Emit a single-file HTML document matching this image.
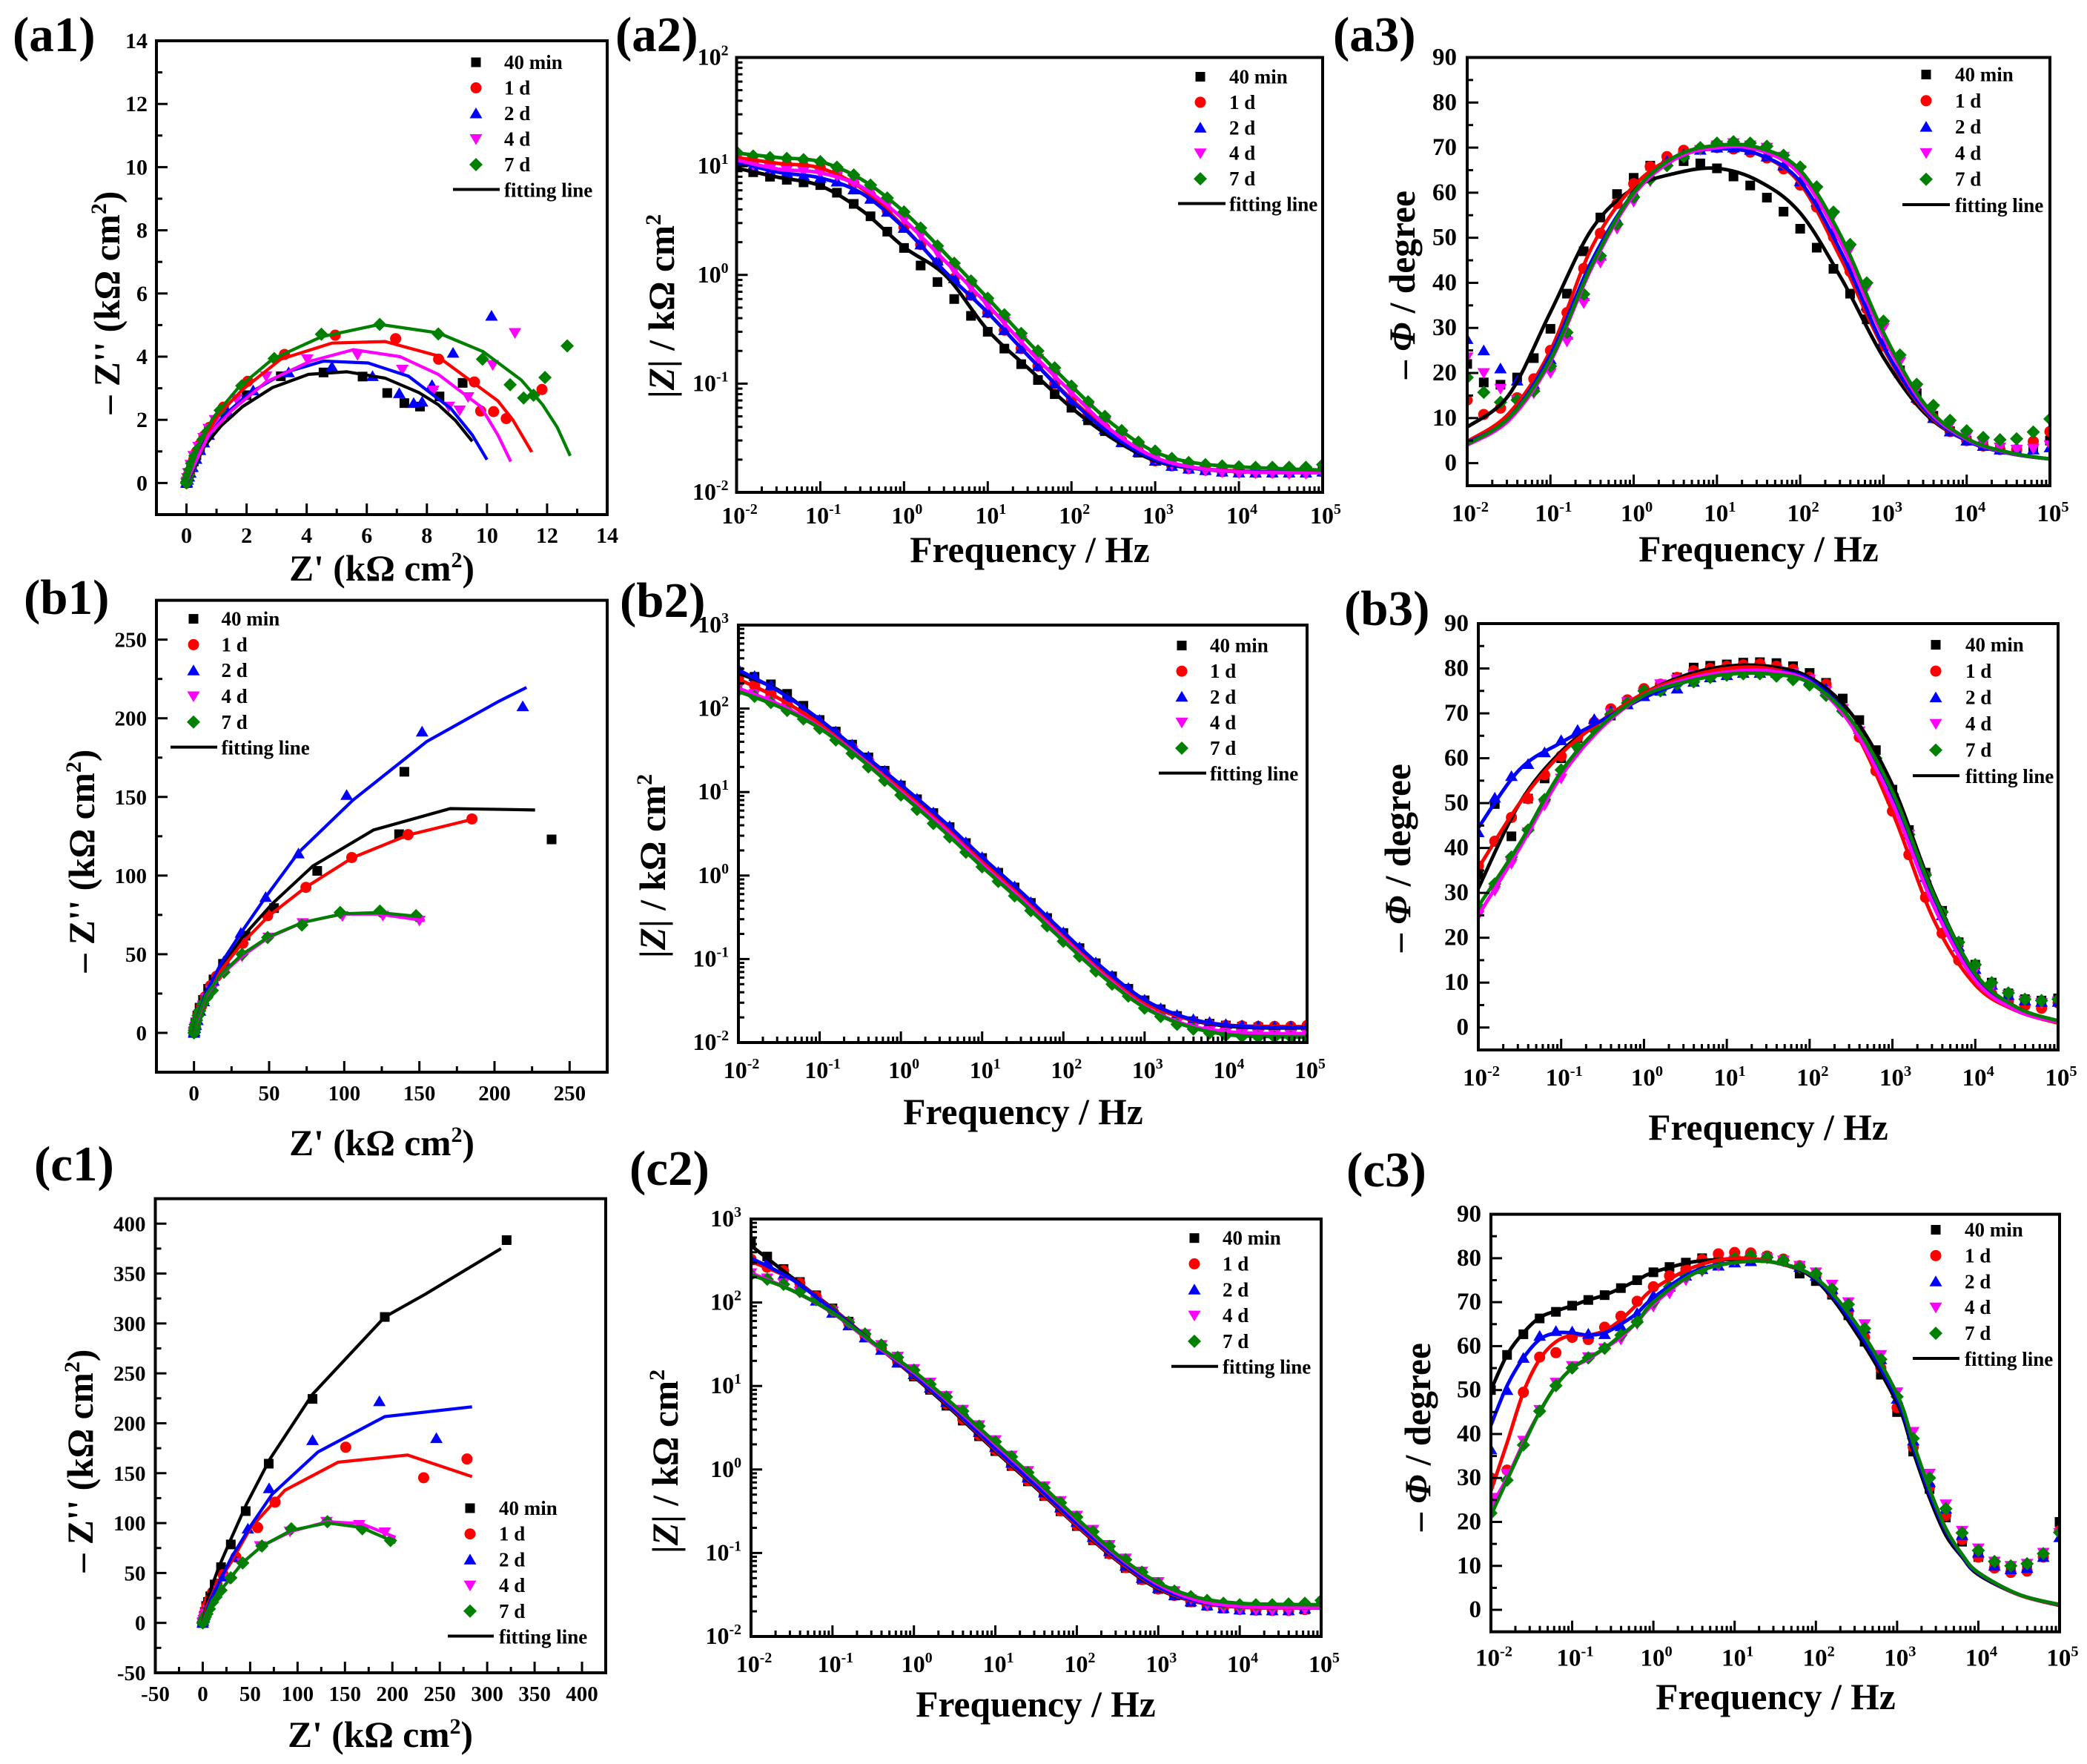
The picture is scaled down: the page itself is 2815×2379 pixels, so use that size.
<!DOCTYPE html>
<html>
<head>
<meta charset="utf-8">
<title>Electrochemical impedance figure</title>
<style>
html,body{margin:0;padding:0;background:#fff;}
svg{display:block;}
text{font-family:"Liberation Serif",serif;font-weight:bold;fill:#000;}
</style>
</head>
<body>
<svg id="figure" xmlns="http://www.w3.org/2000/svg" width="2815" height="2379" viewBox="0 0 2815 2379"></svg>
<script>
const seriesLabels = ['40 min','1 d','2 d','4 d','7 d'];
const fitLabel = 'fitting line';
const freqs = [0.01,0.0158,0.0251,0.0398,0.0631,0.1,0.158,0.251,0.398,0.631,1,1.58,2.51,3.98,6.31,10,15.8,25.1,39.8,63.1,100,158,251,398,631,1000,1580,2510,3980,6310,10000,15800,25100,39800,63100,100000];
const halfDecades = [0.01,0.0316,0.1,0.316,1,3.16,10,31.6,100,316,1000,3162,10000,31623,100000];
const c3FitFreqs = [0.01,0.0158,0.0251,0.0398,0.0631,0.1,0.158,0.251,0.398,0.631,1,3.16,10,31.6,100,316,1000,1580,2510,3980,6310,10000,31623,100000];
const logXExponents = [-2,-1,0,1,2,3,4,5];
const a2YExponents = [-2,-1,0,1,2];
const b2YExponents = [-2,-1,0,1,2,3];
const c2YExponents = [-2,-1,0,1,2,3];
const a1Ticks = [0,2,4,6,8,10,12,14];
const b1Ticks = [0,50,100,150,200,250];
const c1Ticks = [-50,0,50,100,150,200,250,300,350,400];
const phaseTicks = [0,10,20,30,40,50,60,70,80,90];

/* a1 Nyquist */
const a1Re40 = [9.19,8.42,7.77,7.25,6.68,5.86,4.56,3.14,2,1.3,0.74,0.58,0.45,0.33,0.24,0.17,0.1,0.06,0.03,0.01,0];
const a1Im40 = [3.17,2.74,2.42,2.53,2.85,3.37,3.5,3.38,2.78,2.18,1.58,1.33,1.1,0.88,0.68,0.5,0.32,0.2,0.1,0.03,0];
const a1Re1d = [11.83,10.64,10.22,9.79,9.58,8.39,6.96,4.95,3.26,2.04,1.23,0.76,0.58,0.45,0.33,0.24,0.17,0.1,0.06,0.03,0.01,0];
const a1Im1d = [2.96,2.04,2.26,2.28,3.2,3.92,4.57,4.68,4.07,3.22,2.4,1.76,1.48,1.22,0.98,0.74,0.52,0.32,0.2,0.1,0.03,0];
const a1Re2d = [10.15,8.87,8.17,7.84,7.56,7.08,6.19,4.84,3.4,2.22,1.37,0.74,0.58,0.45,0.32,0.2,0.13,0.08,0.04,0.01,0];
const a1Im2d = [5.29,4.12,3.1,2.57,2.53,2.84,3.38,3.68,3.5,2.93,2.24,1.52,1.28,1.04,0.76,0.5,0.32,0.2,0.1,0.03,0];
const a1Re4d = [10.93,10.19,9.37,9.09,8.73,8.21,7.18,5.69,4.02,2.65,1.66,0.95,0.74,0.57,0.4,0.24,0.14,0.06,0.03,0.01,0];
const a1Im4d = [4.75,3.74,2.72,2.3,2.42,2.93,3.59,4.06,3.92,3.38,2.66,2,1.72,1.43,1.15,0.86,0.58,0.32,0.16,0.05,0];
const a1Re7d = [12.67,11.93,11.55,11.22,10.77,9.85,8.38,6.43,4.49,2.92,1.84,1.12,0.71,0.55,0.41,0.28,0.17,0.11,0.07,0.03,0.01,0];
const a1Im7d = [4.34,3.34,2.78,2.69,3.11,3.92,4.72,5.02,4.71,3.94,3.08,2.3,1.64,1.38,1.1,0.86,0.62,0.42,0.26,0.12,0.04,0];
const a1FitRe40 = [9.51,8.95,8.38,7.74,6.61,5.34,4.06,2.86,1.87,1.16,0.59,0.24,0];
const a1FitIm40 = [1.32,1.98,2.48,2.86,3.32,3.52,3.44,3.02,2.42,1.82,1.16,0.44,0];
const a1FitRe1d = [11.49,10.86,10.36,8.31,6.61,4.84,3.14,1.87,1.02,0.45,0.1,0];
const a1FitIm1d = [0.98,2,2.6,4.04,4.48,4.43,3.92,2.96,2.12,1.16,0.32,0];
const a1FitRe2d = [10,9.51,8.8,7.39,6.04,4.56,3.28,2.08,1.23,0.59,0.24,0];
const a1FitIm2d = [0.74,1.52,2.36,3.38,3.8,3.86,3.5,2.84,2.12,1.28,0.5,0];
const a1FitRe4d = [10.79,10.36,9.79,8.38,7.11,5.55,4.13,2.65,1.51,0.74,0.28,0];
const a1FitIm4d = [0.68,1.52,2.42,3.44,4,4.22,3.86,3.2,2.3,1.52,0.62,0];
const a1FitRe7d = [12.77,12.34,11.85,11.14,9.87,8.38,6.43,4.49,2.86,1.73,0.88,0.38,0.1,0];
const a1FitIm7d = [0.86,1.76,2.48,3.26,4.16,4.75,5.02,4.63,3.92,3.02,2.06,1.1,0.32,0];

/* b1 Nyquist */
const b1Re40 = [238,136.5,140,82,53.3,34.3,19.3,13,9.4,6,3.7,2.2,0.9,0.5,0.2,0];
const b1Im40 = [123,126.3,166,103,79.3,61.8,43.9,34,28,21,16,11,6.7,4,2,0];
const b1Re1d = [185,142.5,105,74.5,49,32.5,20.5,15,11,7.5,5,3,1.5,0.8,0.3,0];
const b1Im1d = [136,126,111.5,92.5,74.5,57,43,36,30,23,17,12,7,4,2,0];
const b1Re2d = [218.8,151.8,101.6,69.5,47.7,31.2,19.9,13,9,6.5,4,2.3,1.2,0.6,0.2,0];
const b1Im2d = [207.6,191.5,151.2,114,86.3,63.5,45.5,33,26,20,14,8,5,3,1,0];
const b1Re4d = [150,125.7,98.8,72.4,49.7,32,20,11.6,8.5,6,3.8,1.7,1,0.5,0.2,0];
const b1Im4d = [71.4,74.5,74.3,69.8,60.6,48.7,38,27,22,17.5,12,6.7,4,2.5,1,0];
const b1Re7d = [147.8,123.7,97.3,71.8,49,32,19.9,12.2,8.5,6,3.8,2.7,1.7,1,0.5,0.2,0];
const b1Im7d = [74.5,77.4,76.5,68.6,60.6,49.9,38.6,27,22.5,18.7,14,11,8,5.5,3.5,1.5,0];
const b1FitRe40 = [227,208,170.5,119.5,79,52,32,18,6.5,0.9,0];
const b1FitIm40 = [141.7,142,142.6,129,106,82,60.6,41.5,21,5.5,0];
const b1FitRe1d = [185,142.7,105.8,74,49.7,32,19.3,9.4,2.3,0];
const b1FitIm1d = [135.7,125.8,111.5,92.3,74.3,57,41.5,27,10.3,0];
const b1FitRe2d = [221.3,202.3,155,105.8,69.5,47.7,31.2,17.9,8,1.7,0];
const b1FitIm2d = [219.6,210.5,185.3,148,114.6,86.3,63.5,43.9,25.9,7.9,0];
const b1FitRe4d = [153.5,122.9,98.8,72.4,49.7,32,17.9,8,1.7,0];
const b1FitIm4d = [71.4,75.5,75.5,70.2,60.6,48.7,36.7,23.5,6.7,0];
const b1FitRe7d = [151.2,122.9,98.8,72.4,49.7,32,17.9,8,1.7,0];
const b1FitIm7d = [73.8,76.5,75.7,70.2,61.1,49.9,37.2,24.2,7.9,0];

/* c1 Nyquist */
const c1Re40 = [320.5,192,115.8,69.6,45.3,29.6,19.3,12.6,8,5.5,3.6,2.2,1.2,0.5,0];
const c1Im40 = [383.5,306.5,224.4,159.5,112,78.6,55.8,38.5,26.7,21,16.9,11,7,3,0];
const c1Re1d = [278.7,233,150.8,76.3,57.9,35,21.5,15,10.3,7,4.5,2.8,1.5,0.6,0];
const c1Im1d = [164.2,145.4,176,121,95.5,66,48.3,39,30.6,23,17,12,7,3,0];
const c1Re2d = [246.4,186.3,115.8,70,47.6,32.8,21.5,15,10.3,6,3.6,2,1,0.4,0];
const c1Im2d = [185,222,183,134.8,94.3,66,46.4,36,26.7,19,13,8,5,2,0];
const c1Re4d = [192,165,130.6,92,60.6,41.7,28.3,17,12,9,6,3.6,2,1,0.4,0];
const c1Im4d = [90.8,98.2,101.4,91.6,77,60,44.4,32.6,25,18.9,13,9,6,3,1,0];
const c1Re7d = [198,168.3,131.5,93.4,62.4,42.2,29.6,19.3,14,10.3,7,4.5,2.8,1.5,0.6,0];
const c1Im7d = [82.5,94.3,101.4,94.3,77,60,45.2,32.6,26,20.8,14,9,6,3.5,1.5,0];
const c1FitRe40 = [314.6,234.7,192,115.8,70.9,46.2,30.5,17,5.8,0];
const c1FitIm40 = [375,329.3,306.5,229,164.2,119,85.7,56,26.7,0];
const c1FitRe1d = [284,215.9,142.7,86.6,50.7,28.3,14.8,4.5,0];
const c1FitIm1d = [146.6,168.2,161,132.8,95.5,58.2,38.5,17,0];
const c1FitRe2d = [284,192,121.6,73.2,50.7,30.5,19.3,8,0];
const c1FitIm2d = [216.5,206.7,171.3,128.9,97.4,66,44.4,22.8,0];
const c1FitRe4d = [203.3,167.4,131.5,93.4,62.4,41.7,23.8,10.3,3.6,0];
const c1FitIm4d = [85.7,99.4,101.4,91.6,77,60,38.5,22.8,9,0];
const c1FitRe7d = [203.3,167.4,131.5,93.4,62.4,41.7,23.8,10.3,3.6,0];
const c1FitIm7d = [80.5,95.5,100.2,92.7,77,60,38.5,22.8,9,0];

/* a2 |Z| */
const a2Mod40 = [10,8.8,8,7.5,7.1,6.7,5.7,4.5,3.46,2.5,1.77,1.22,0.86,0.6,0.42,0.3,0.21,0.151,0.108,0.08,0.06,0.046,0.0366,0.0288,0.0232,0.0195,0.0175,0.0165,0.016,0.0155,0.0153,0.0152,0.0152,0.0152,0.0152,0.0155];
const a2Mod1d = [12,10.6,10.4,10.3,10,9.6,8.7,7,5.4,3.9,2.75,1.9,1.3,0.93,0.65,0.45,0.31,0.21,0.145,0.1,0.072,0.052,0.039,0.03,0.024,0.0195,0.0175,0.0165,0.016,0.0155,0.0153,0.0152,0.0152,0.0152,0.0152,0.0155];
const a2Mod2d = [11.3,9.7,9,8.7,8.2,7.8,7.2,6.1,5,3.8,2.7,1.9,1.35,0.93,0.65,0.45,0.31,0.21,0.145,0.1,0.07,0.05,0.038,0.029,0.0235,0.0195,0.0175,0.0165,0.016,0.0155,0.0152,0.0152,0.0152,0.0152,0.0152,0.0155];
const a2Mod4d = [11.8,10.2,9.6,9.2,9,8.7,8.1,7,5.8,4.4,3.2,2.3,1.6,1.1,0.77,0.53,0.37,0.25,0.17,0.12,0.083,0.06,0.044,0.033,0.0255,0.0205,0.018,0.0165,0.0158,0.0153,0.015,0.015,0.015,0.0148,0.0148,0.015];
const a2Mod7d = [13.5,12.4,12,11.8,11.5,11,9.8,8.3,6.7,5.1,3.8,2.7,1.85,1.28,0.88,0.61,0.43,0.29,0.2,0.14,0.095,0.068,0.05,0.037,0.029,0.024,0.0205,0.0188,0.018,0.0175,0.0172,0.017,0.017,0.017,0.017,0.018];
const a2Fit40 = [9.6,7.9,6.6,3.9,1.8,0.98,0.31,0.135,0.06,0.031,0.0195,0.0165,0.0155,0.0152,0.0152];
const a2Fit1d = [12,10.6,9.6,6.2,2.75,1.05,0.45,0.175,0.072,0.034,0.0205,0.0167,0.0157,0.0154,0.0154];
const a2Fit2d = [11,8.8,7.8,5.6,2.7,1.05,0.45,0.175,0.07,0.033,0.02,0.0165,0.0156,0.0153,0.0153];
const a2Fit4d = [11.4,9.4,8.7,6.4,3.2,1.32,0.53,0.2,0.083,0.036,0.021,0.0167,0.0155,0.0152,0.0152];
const a2Fit7d = [13.2,12,11,7.5,3.8,1.55,0.61,0.235,0.095,0.042,0.0235,0.0185,0.0172,0.0165,0.016];

/* b2 |Z| */
const b2Mod40 = [275,240,195,150,108,73,53,37,26,18,12,8.2,5.6,3.8,2.45,1.62,1.08,0.72,0.47,0.31,0.205,0.135,0.089,0.062,0.044,0.032,0.025,0.0208,0.018,0.0168,0.016,0.0155,0.0152,0.015,0.015,0.0152];
const b2Mod1d = [230,190,150,118,90,66,48,34,24,16.5,11,7.5,5.1,3.4,2.25,1.5,0.98,0.65,0.43,0.285,0.187,0.125,0.082,0.056,0.04,0.0295,0.0235,0.0198,0.0178,0.0165,0.016,0.0158,0.0156,0.0156,0.0156,0.016];
const b2Mod2d = [300,245,190,137,100,73,53,37,26.5,18,12.3,8.3,5.7,3.9,2.5,1.66,1.1,0.74,0.48,0.32,0.209,0.138,0.091,0.063,0.045,0.0325,0.0257,0.0214,0.019,0.0176,0.0166,0.016,0.0158,0.0156,0.0156,0.0158];
const b2Mod4d = [180,150,125,100,80,60,44,31,21.5,15,10,6.8,4.6,3.1,2.05,1.35,0.9,0.6,0.4,0.265,0.172,0.113,0.075,0.052,0.037,0.027,0.021,0.0172,0.015,0.0138,0.0132,0.0128,0.0126,0.0126,0.0126,0.0128];
const b2Mod7d = [165,140,118,95,75,58,42,29,20,13.8,9.2,6.2,4.2,2.9,1.9,1.27,0.85,0.57,0.38,0.25,0.163,0.108,0.072,0.05,0.036,0.0258,0.0205,0.0165,0.0145,0.013,0.0122,0.0118,0.0116,0.0116,0.0116,0.0118];
const b2Fit40 = [265,165,72,30,12,4.6,1.62,0.6,0.205,0.075,0.032,0.0195,0.0158,0.015,0.015];
const b2Fit1d = [225,132,66,29,11,4.3,1.5,0.56,0.19,0.07,0.03,0.0195,0.0162,0.0156,0.0155];
const b2Fit2d = [290,160,74,30,12.2,4.7,1.66,0.61,0.21,0.076,0.0325,0.02,0.0162,0.0152,0.0152];
const b2Fit4d = [175,112,60,26,10,3.9,1.35,0.5,0.175,0.063,0.027,0.0165,0.0135,0.0128,0.0128];
const b2Fit7d = [160,105,58,25,9.5,3.6,1.27,0.47,0.165,0.06,0.0262,0.016,0.0125,0.0118,0.0116];

/* c2 |Z| */
const c2Mod40 = [510,355,252,176,122,85,59,41,28,19,13,9,5.8,3.85,2.5,1.66,1.1,0.72,0.48,0.316,0.21,0.142,0.098,0.066,0.048,0.037,0.031,0.0257,0.0233,0.0216,0.021,0.0207,0.0205,0.0205,0.021,0.024];
const c2Mod1d = [330,265,240,170,118,82,57,40,28,19.5,13.5,9.3,6.1,4,2.6,1.72,1.12,0.74,0.49,0.32,0.215,0.145,0.098,0.067,0.048,0.037,0.031,0.026,0.0235,0.022,0.021,0.0207,0.0205,0.0205,0.021,0.024];
const c2Mod2d = [320,300,215,150,105,75,53,38,27,19,13.8,9.5,6.4,5,2.8,1.85,1.2,0.8,0.53,0.35,0.235,0.155,0.105,0.07,0.05,0.038,0.031,0.0262,0.0235,0.0218,0.021,0.0205,0.0205,0.0205,0.0215,0.024];
const c2Mod4d = [225,195,170,135,105,78,56,42,31,22.5,16,11,7.6,5.2,3.4,2.25,1.47,0.96,0.63,0.42,0.28,0.19,0.125,0.086,0.06,0.045,0.035,0.028,0.024,0.022,0.021,0.0207,0.0205,0.0205,0.021,0.024];
const c2Mod7d = [215,190,165,135,108,80,58,42,31,22,15.5,10.5,7.4,5,3.3,2.15,1.42,0.92,0.6,0.4,0.27,0.18,0.12,0.083,0.059,0.043,0.035,0.03,0.027,0.025,0.024,0.024,0.024,0.0245,0.025,0.027];
const c2Fit40 = [480,200,85,33,13,4.8,1.66,0.6,0.21,0.08,0.037,0.0255,0.0225,0.022,0.022];
const c2Fit1d = [310,190,84,33,13.3,5,1.72,0.62,0.215,0.082,0.038,0.0255,0.0225,0.022,0.022];
const c2Fit2d = [340,190,82,33,13.5,5.1,1.78,0.64,0.225,0.085,0.039,0.026,0.0228,0.0222,0.022];
const c2Fit4d = [225,140,75,32,14.5,5.6,2,0.72,0.25,0.092,0.042,0.0268,0.023,0.0222,0.0222];
const c2Fit7d = [215,140,76,33,15,5.8,2.1,0.75,0.26,0.095,0.044,0.029,0.025,0.0242,0.024];

/* a3 phase */
const a3Phase40 = [22,17.9,17.4,19,23.3,29.8,37.6,47,54.5,59.7,63.3,66,67,67,66.5,65.4,63.6,61.6,58.9,55.8,52,47.8,43.1,37.6,31.9,26,20.6,15.5,10.5,7.1,5,3.8,3,3,3.4,5];
const a3Phase1d = [14,10.8,12.2,14.5,18.7,25,33.4,43.2,51,57.6,62,65.8,68,69.4,69.7,70,69.7,69,67.7,65.3,61.7,56.8,50.2,42.5,34.2,26,20,14,10,7,5,3.8,3,3,4.8,7];
const a3Phase2d = [27.5,25,21,18.3,17.5,23,28.5,37,46,54,60,64,67,68.5,69.5,70,70,69.5,68,66,62.5,58,51.5,44,35,27,20,14.5,10,7,5,3.8,3,2.8,3,3.5];
const a3Phase4d = [23.5,20,16.5,14,15.5,20,27,35.5,44.5,52,58,62.5,66,68,69.5,70.5,71,70.5,70,68,65,60.5,55,47.5,39,30,22.5,16.5,12,8.5,6,4.5,3.5,3,3.2,4];
const a3Phase7d = [19,15.7,13.5,14,16,21.5,29,37.5,46,53,59,63,66,68,70,71,71.3,71,70.3,68.3,65.7,61.3,55.7,48.5,40,31.5,24,17.5,12.8,9.5,7.2,5.7,5.2,5.4,6.9,9.8];
const a3Fit40 = [8,15.1,33.5,52,61,64.3,65.4,62.6,55.5,40.8,23.5,11,5,2.3,0.9];
const a3Fit1d = [4.8,11,25,48,61.5,68,70,68.5,62,45,25.5,11.5,5,2.2,0.9];
const a3Fit2d = [4.5,10,24,45,60,68,69.7,68.5,62.5,46.5,26,11.8,5,2.2,0.9];
const a3Fit4d = [4,9.5,22.5,43.5,59.5,67.5,70,69.5,64,48.5,28,12.5,5.3,2.3,0.9];
const a3Fit7d = [4.2,10,23,44,60,68,70.5,70,65,50,29,13,5.5,2.4,0.9];

/* b3 phase */
const b3Phase40 = [34,49.8,42.6,51,55.5,60,64.5,67.5,69.5,72,74.5,76,78,80.2,80.6,80.9,81.3,81.4,81.2,80.5,79,76.8,73.3,68.5,61.8,53,44,34.5,26,19,14,10,7.6,6.3,6,6.5];
const b3Phase1d = [36,41.5,46.8,51,56.3,60.5,64.7,68,71,73,75.5,76.5,78,79.5,80,80.5,80.8,81,80.5,79.8,78,76.5,71,64.7,57.2,48.2,38.5,29,21,15,11,7.5,5.8,4.9,4.3,5.5];
const b3Phase2d = [43.5,51.2,56,58.7,61.3,64,66.3,68.7,70.5,72,73.8,75,75.5,77,78,78.5,79,79,79,78.5,77.5,75.5,71.5,66.5,60,51,43,33.5,25,18,13,9.5,7.2,6,5.7,5.7];
const b3Phase4d = [25,30.5,36.5,43.5,49.5,55.5,61.5,66,70,72.5,74.5,76.5,77.5,78.5,79,79.5,80,80,79.5,79,77.5,75,71,66,59,51,43,33.5,25,18,13,9,7.3,6,5.5,5.8];
const b3Phase7d = [27,32,38,44,50.8,57.4,62.5,66.3,69.8,72.3,75,75,76.5,77,78,78.5,78.8,78.8,78.3,77.5,76.3,74,70.5,66,60,52,43,34,25.7,19,14,10,7.7,6.3,6,6.3];
const b3Fit40 = [31,50,61.5,68.5,74.5,78.5,80.5,80.5,78,70,54,30,12,4.5,1.3];
const b3Fit1d = [35.5,50,61,68.5,74.5,78,80,80,77,67.5,48,24,9.5,3.7,1];
const b3Fit2d = [44.5,57.5,63.5,68.5,73.5,77,79,79.5,77.5,68.5,52,29,11.5,4.2,1.3];
const b3Fit4d = [25,40,56,67,74,77.5,79.2,79.5,77,67.5,50,27,10.5,3.8,1.2];
const b3Fit7d = [27,41,57,67.5,74,77,78.7,78.8,76.8,68.5,52.5,29.5,12,4.5,1.5];

/* c3 phase */
const c3Phase40 = [50,58,62.7,66.3,67.8,69.2,70.5,71.6,73.2,75,76.8,78,79,80,80,80.2,80.5,80.3,79.5,76.5,74.8,71.7,67,61,53.5,45,36,27.5,21,15.5,12,10,9.5,10,12,20];
const c3Phase1d = [30,31.8,49.5,57.5,58.5,62,61.5,64.3,66.8,70.2,73.5,76,77.5,79.7,81,81.3,81.2,80.5,79.8,78.3,76,72,68,62,55,46,37,28,21.5,16,12,9.5,8.5,8.8,12,18];
const c3Phase2d = [36.5,50,57.3,62.3,63.4,63.3,62.8,62.7,64.5,67.5,71.5,73.5,76,77.5,78.3,79,79.3,80,79.5,78,76,73,69,64,57,48,38.5,29,23,17,13,10,9.2,9.5,12,16.5];
const c3Phase4d = [25.5,31,38.5,45.5,51.7,55.5,57.5,59.5,61.5,65,69,72,75,77,78.3,79.5,80,80,79.5,78.3,76.8,74,70,65,58,49.5,40.5,31,24,18,14,11,10,10.5,13,17.5];
const c3Phase7d = [22,29.5,37.5,45.2,51,55,57.3,59.5,62.5,65.5,70,73.5,76,77.5,79,80,80.5,80.2,79.5,78,76.5,73,69.5,64,57,48.5,39,30,23,17.5,13.5,11,10,10.5,12.8,17.6];
const c3Fit40 = [50,58,63,66.5,68,69.2,70.5,71.6,73.2,75,76.8,79.2,79.7,79,75,63,47,36,25.5,17,12,8,3.4,1];
const c3Fit1d = [27,38,49.5,57,61,62.5,62.5,63.5,66,69.5,73,78,80,79,75.3,64,48,37,26.5,18,12.3,8.3,3.4,1];
const c3Fit2d = [42,51,57.3,61.5,63,63,62.5,63,65,67.5,71,77,79,79,75.3,64,48,37,26.5,18,12.3,8.3,3.5,1.1];
const c3Fit4d = [23.5,30,38,45,51,55,57,59.5,62,65.5,69.5,76.5,79,79,75.5,65,49,38,27.5,18.5,12.6,8.5,3.5,1.2];
const c3Fit7d = [21.5,29.5,37.5,45,51,55,57.3,59.5,62.5,65.5,70,76.5,79,79,75.5,65,49,38,27.5,18.5,12.6,8.5,3.5,1.2];

const colors = ['#000000','#ff0000','#0000ff','#ff00ff','#008000'];
const shapes = ['square','circle','up','down','diamond'];
const seriesKeys = ['40-min','1-d','2-d','4-d','7-d'];

const NS = 'http://www.w3.org/2000/svg';
const svg = document.getElementById('figure');

function make(tag, attrs, parent) {
  const el = document.createElementNS(NS, tag);
  for (const k in attrs) el.setAttribute(k, attrs[k]);
  parent.appendChild(el);
  return el;
}
function markerEl(shape, x, y, color, parent) {
  if (shape === 'square') return make('rect', {x: x - 6.5, y: y - 6.5, width: 13, height: 13, fill: color}, parent);
  if (shape === 'circle') return make('circle', {cx: x, cy: y, r: 7.5, fill: color}, parent);
  let pts;
  if (shape === 'up') pts = [[x, y - 8], [x + 8.5, y + 6.5], [x - 8.5, y + 6.5]];
  else if (shape === 'down') pts = [[x, y + 8], [x + 8.5, y - 6.5], [x - 8.5, y - 6.5]];
  else pts = [[x, y - 9], [x + 9, y], [x, y + 9], [x - 9, y]];
  return make('polygon', {points: pts.map(p => p.join(',')).join(' '), fill: color}, parent);
}
function smoothPath(pts) {
  let d = 'M' + pts[0][0].toFixed(1) + ' ' + pts[0][1].toFixed(1);
  for (let i = 0; i < pts.length - 1; i++) {
    const p0 = pts[Math.max(0, i - 1)], p1 = pts[i], p2 = pts[i + 1], p3 = pts[Math.min(pts.length - 1, i + 2)];
    const c1x = p1[0] + (p2[0] - p0[0]) / 6, c1y = p1[1] + (p2[1] - p0[1]) / 6;
    const c2x = p2[0] - (p3[0] - p1[0]) / 6, c2y = p2[1] - (p3[1] - p1[1]) / 6;
    d += ' C' + [c1x, c1y, c2x, c2y, p2[0], p2[1]].map(v => v.toFixed(1)).join(' ');
  }
  return d;
}
function straightPath(pts) {
  return 'M' + pts.map(p => p[0].toFixed(1) + ' ' + p[1].toFixed(1)).join(' L');
}

const panelLabels = [
  {t: '(a1)', x: 17, y: 69}, {t: '(a2)', x: 830, y: 69}, {t: '(a3)', x: 1798, y: 69},
  {t: '(b1)', x: 32, y: 828}, {t: '(b2)', x: 836, y: 832}, {t: '(b3)', x: 1813, y: 843},
  {t: '(c1)', x: 46, y: 1592}, {t: '(c2)', x: 849, y: 1598}, {t: '(c3)', x: 1816, y: 1600}
];
for (const p of panelLabels) {
  const el = make('text', {x: p.x, y: p.y, 'font-size': 67}, svg);
  el.textContent = p.t;
  
  
}

function scaleFn(kind, dMin, dMax, pMin, pMax) {
  if (kind === 'log') {
    const a = dMin, b = dMax;
    return v => pMin + (Math.log10(v) - a) / (b - a) * (pMax - pMin);
  }
  return v => pMin + (v - dMin) / (dMax - dMin) * (pMax - pMin);
}

function drawPanel(c) {
  const g = make('g', {}, svg);
  
  
  const F = c.frame;
  const sx = scaleFn(c.xKind, c.xDom[0], c.xDom[1], F.l, F.r);
  const sy = scaleFn(c.yKind, c.yDom[0], c.yDom[1], F.b, F.t);

  const clip = make('clipPath', {id: 'clip-' + c.id}, g);
  make('rect', {x: F.l, y: F.t, width: F.r - F.l, height: F.b - F.t}, clip);

  const marks = make('g', {'clip-path': 'url(#clip-' + c.id + ')'}, g);
  
  

  c.markers.forEach((m, i) => {
    const sg = make('g', {}, marks);
    
    
    m.y.forEach((v, j) => {
      const pt = markerEl(shapes[i], sx(m.x[j]), sy(v), colors[i], sg);
      
      
    });
  });
  c.fits.forEach((f, i) => {
    const pts = f.y.map((v, j) => [sx(f.x[j]), sy(v)]);
    const d = c.smooth ? smoothPath(pts) : straightPath(pts);
    const line = make('path', {d: d, fill: 'none', stroke: colors[i], 'stroke-width': c.lw, 'stroke-linejoin': 'round'}, marks);
    
    
  });

  const frame = make('rect', {x: F.l, y: F.t, width: F.r - F.l, height: F.b - F.t, fill: 'none', stroke: '#000', 'stroke-width': 4}, g);
  
  

  const tickG = make('g', {stroke: '#000', 'stroke-width': 3}, g);
  
  
  const labelG = make('g', {'font-size': c.tickFont}, g);
  
  

  function tickX(px, len) { make('line', {x1: px, x2: px, y1: F.b, y2: F.b - len}, tickG); }
  function tickY(py, len) { make('line', {x1: F.l, x2: F.l + len, y1: py, y2: py}, tickG); }
  function logLabel(x, y, exp, anchor) {
    const t = make('text', {x: x, y: y, 'text-anchor': anchor}, labelG);
    const a = make('tspan', {}, t);
    a.textContent = '10';
    const b = make('tspan', {dy: -13, 'font-size': c.tickFont * 0.62}, t);
    b.textContent = String(exp);
    
    
  }
  function linLabel(x, y, v, anchor) {
    const t = make('text', {x: x, y: y, 'text-anchor': anchor}, labelG);
    t.textContent = String(v);
    
    
  }
  const base = F.b + c.xLabelGap;
  if (c.xKind === 'log') {
    c.xTicks.forEach((e, i) => {
      tickX(sx(Math.pow(10, e)), 15);
      logLabel(sx(Math.pow(10, e)) + 4, base, e, 'middle');
      if (i < c.xTicks.length - 1) for (let m = 2; m < 10; m++) tickX(sx(m * Math.pow(10, e)), 8);
    });
  } else {
    const st = c.xTicks[1] - c.xTicks[0];
    c.xTicks.forEach(v => {
      tickX(sx(v), 15);
      linLabel(sx(v), base, v, 'middle');
      if (v + st / 2 < c.xDom[1]) tickX(sx(v + st / 2), 8);
    });
  }
  const yEnd = F.l - c.yLabelGap;
  if (c.yKind === 'log') {
    c.yTicks.forEach((e, i) => {
      tickY(sy(Math.pow(10, e)), 15);
      logLabel(yEnd, sy(Math.pow(10, e)) + 10, e, 'end');
      if (i < c.yTicks.length - 1) for (let m = 2; m < 10; m++) tickY(sy(m * Math.pow(10, e)), 8);
    });
  } else {
    const st = c.yTicks[1] - c.yTicks[0];
    c.yTicks.forEach(v => {
      tickY(sy(v), 15);
      linLabel(yEnd, sy(v) + 10, v, 'end');
      if (v + st / 2 < c.yDom[1]) tickY(sy(v + st / 2), 8);
      if (v === c.yTicks[0] && v - st / 2 > c.yDom[0]) tickY(sy(v - st / 2), 8);
    });
  }

  const xt = make('text', {x: c.xTitle.x, y: c.xTitle.y, 'text-anchor': 'middle', 'font-size': 49.5}, g);
  xt.innerHTML = c.xTitle.html;
  
  
  const yt = make('text', {x: c.yTitle.x, y: c.yTitle.y, 'text-anchor': 'middle', 'font-size': 49.5, transform: 'rotate(-90 ' + c.yTitle.x + ' ' + c.yTitle.y + ')'}, g);
  yt.innerHTML = c.yTitle.html;
  
  

  const L = c.legend;
  const lg = make('g', {'font-size': 27}, g);
  
  
  seriesLabels.forEach((s, i) => {
    const y = L.y + i * L.step;
    const mk = markerEl(shapes[i], L.mx, y, colors[i], lg);
    
    
    const tx = make('text', {x: L.tx, y: y + 9}, lg);
    tx.textContent = s;
    
    
  });
  const fy = L.y + 5 * L.step;
  const fl = make('line', {x1: L.l1, x2: L.l2, y1: fy - 1, y2: fy - 1, stroke: '#000', 'stroke-width': 4}, lg);
  
  
  const ft = make('text', {x: L.tx, y: fy + 9}, lg);
  ft.textContent = fitLabel;
  
  
}

const nyqX = "Z' (kΩ cm<tspan dy='-18' font-size='30'>2</tspan><tspan dy='18'>)</tspan>";
const nyqY = "– Z'' (kΩ cm<tspan dy='-18' font-size='30'>2</tspan><tspan dy='18'>)</tspan>";
const freqX = 'Frequency / Hz';
const modY = "|<tspan font-style='italic'>Z</tspan>| / kΩ cm<tspan dy='-18' font-size='30'>2</tspan>";
const phaseY = "– <tspan font-style='italic'>Φ</tspan> / degree";

function nyqSeries(xs, ys) { return xs.map((x, i) => ({x: x, y: ys[i]})); }
function bodeMarkers(ys) { return ys.map(y => ({x: freqs, y: y})); }
function bodeFits(ys, fx) { return ys.map(y => ({x: fx, y: y})); }

const panels = [
  {id: 'a1', frame: {l: 211, r: 819, t: 55, b: 694}, xKind: 'lin', yKind: 'lin', xDom: [-1, 14], yDom: [-1, 14], xTicks: a1Ticks, yTicks: a1Ticks, tickFont: 30, xLabelGap: 38, yLabelGap: 12, lw: 4.2, smooth: false,
   markers: nyqSeries([a1Re40, a1Re1d, a1Re2d, a1Re4d, a1Re7d], [a1Im40, a1Im1d, a1Im2d, a1Im4d, a1Im7d]),
   fits: nyqSeries([a1FitRe40, a1FitRe1d, a1FitRe2d, a1FitRe4d, a1FitRe7d], [a1FitIm40, a1FitIm1d, a1FitIm2d, a1FitIm4d, a1FitIm7d]),
   xTitle: {x: 515, y: 783, html: nyqX}, yTitle: {x: 161, y: 408, html: nyqY},
   legend: {mx: 642, tx: 680, y: 84, step: 34.5, l1: 611, l2: 674}},
  {id: 'a2', frame: {l: 993.5, r: 1784, t: 77.5, b: 664}, xKind: 'log', yKind: 'log', xDom: [-2, 5], yDom: [-2, 2], xTicks: logXExponents, yTicks: a2YExponents, tickFont: 32, xLabelGap: 42, yLabelGap: 11, lw: 4.8, smooth: true,
   markers: bodeMarkers([a2Mod40, a2Mod1d, a2Mod2d, a2Mod4d, a2Mod7d]),
   fits: bodeFits([a2Fit40, a2Fit1d, a2Fit2d, a2Fit4d, a2Fit7d], halfDecades),
   xTitle: {x: 1389, y: 758, html: freqX}, yTitle: {x: 909, y: 413, html: modY},
   legend: {mx: 1619, tx: 1658, y: 103.5, step: 34.4, l1: 1589, l2: 1653}},
  {id: 'a3', frame: {l: 1979, r: 2765, t: 77.5, b: 655}, xKind: 'log', yKind: 'lin', xDom: [-2, 5], yDom: [-5, 90], xTicks: logXExponents, yTicks: phaseTicks, tickFont: 33, xLabelGap: 48, yLabelGap: 14, lw: 4.8, smooth: true,
   markers: bodeMarkers([a3Phase40, a3Phase1d, a3Phase2d, a3Phase4d, a3Phase7d]),
   fits: bodeFits([a3Fit40, a3Fit1d, a3Fit2d, a3Fit4d, a3Fit7d], halfDecades),
   xTitle: {x: 2372, y: 757, html: freqX}, yTitle: {x: 1908, y: 384, html: phaseY},
   legend: {mx: 2598, tx: 2637, y: 100.5, step: 35.3, l1: 2566, l2: 2630}},
  {id: 'b1', frame: {l: 211, r: 819, t: 809.6, b: 1446}, xKind: 'lin', yKind: 'lin', xDom: [-25, 275], yDom: [-25, 275], xTicks: b1Ticks, yTicks: b1Ticks, tickFont: 29, xLabelGap: 38, yLabelGap: 13, lw: 4.2, smooth: false,
   markers: nyqSeries([b1Re40, b1Re1d, b1Re2d, b1Re4d, b1Re7d], [b1Im40, b1Im1d, b1Im2d, b1Im4d, b1Im7d]),
   fits: nyqSeries([b1FitRe40, b1FitRe1d, b1FitRe2d, b1FitRe4d, b1FitRe7d], [b1FitIm40, b1FitIm1d, b1FitIm2d, b1FitIm4d, b1FitIm7d]),
   xTitle: {x: 515, y: 1558, html: nyqX}, yTitle: {x: 127, y: 1161, html: nyqY},
   legend: {mx: 261, tx: 298.5, y: 834.6, step: 34.8, l1: 230, l2: 293}},
  {id: 'b2', frame: {l: 996, r: 1763, t: 843, b: 1406}, xKind: 'log', yKind: 'log', xDom: [-2, 5], yDom: [-2, 3], xTicks: logXExponents, yTicks: b2YExponents, tickFont: 32, xLabelGap: 48, yLabelGap: 13, lw: 4.8, smooth: true,
   markers: bodeMarkers([b2Mod40, b2Mod1d, b2Mod2d, b2Mod4d, b2Mod7d]),
   fits: bodeFits([b2Fit40, b2Fit1d, b2Fit2d, b2Fit4d, b2Fit7d], halfDecades),
   xTitle: {x: 1380, y: 1516, html: freqX}, yTitle: {x: 897, y: 1168, html: modY},
   legend: {mx: 1594, tx: 1632, y: 870.6, step: 34.6, l1: 1563, l2: 1627}},
  {id: 'b3', frame: {l: 1994, r: 2776, t: 841, b: 1416}, xKind: 'log', yKind: 'lin', xDom: [-2, 5], yDom: [-5, 90], xTicks: logXExponents, yTicks: phaseTicks, tickFont: 33, xLabelGap: 48, yLabelGap: 13, lw: 4.8, smooth: true,
   markers: bodeMarkers([b3Phase40, b3Phase1d, b3Phase2d, b3Phase4d, b3Phase7d]),
   fits: bodeFits([b3Fit40, b3Fit1d, b3Fit2d, b3Fit4d, b3Fit7d], halfDecades),
   xTitle: {x: 2385, y: 1537, html: freqX}, yTitle: {x: 1902, y: 1157, html: phaseY},
   legend: {mx: 2611, tx: 2651, y: 869.6, step: 35.5, l1: 2580, l2: 2643}},
  {id: 'c1', frame: {l: 209.5, r: 817, t: 1616.6, b: 2256}, xKind: 'lin', yKind: 'lin', xDom: [-50, 425], yDom: [-50, 425], xTicks: c1Ticks, yTicks: c1Ticks, tickFont: 29, xLabelGap: 38, yLabelGap: 13, lw: 4.2, smooth: false,
   markers: nyqSeries([c1Re40, c1Re1d, c1Re2d, c1Re4d, c1Re7d], [c1Im40, c1Im1d, c1Im2d, c1Im4d, c1Im7d]),
   fits: nyqSeries([c1FitRe40, c1FitRe1d, c1FitRe2d, c1FitRe4d, c1FitRe7d], [c1FitIm40, c1FitIm1d, c1FitIm2d, c1FitIm4d, c1FitIm7d]),
   xTitle: {x: 513, y: 2356, html: nyqX}, yTitle: {x: 125, y: 1970, html: nyqY},
   legend: {mx: 634, tx: 673, y: 2034, step: 34.7, l1: 604, l2: 666}},
  {id: 'c2', frame: {l: 1013, r: 1782, t: 1644, b: 2207}, xKind: 'log', yKind: 'log', xDom: [-2, 5], yDom: [-2, 3], xTicks: logXExponents, yTicks: c2YExponents, tickFont: 32, xLabelGap: 48, yLabelGap: 13, lw: 4.8, smooth: true,
   markers: bodeMarkers([c2Mod40, c2Mod1d, c2Mod2d, c2Mod4d, c2Mod7d]),
   fits: bodeFits([c2Fit40, c2Fit1d, c2Fit2d, c2Fit4d, c2Fit7d], halfDecades),
   xTitle: {x: 1397, y: 2315, html: freqX}, yTitle: {x: 914, y: 1971, html: modY},
   legend: {mx: 1611, tx: 1649, y: 1669.7, step: 34.8, l1: 1580, l2: 1643}},
  {id: 'c3', frame: {l: 2011, r: 2778, t: 1637.6, b: 2200.7}, xKind: 'log', yKind: 'lin', xDom: [-2, 5], yDom: [-5, 90], xTicks: logXExponents, yTicks: phaseTicks, tickFont: 33, xLabelGap: 46, yLabelGap: 13, lw: 4.8, smooth: true,
   markers: bodeMarkers([c3Phase40, c3Phase1d, c3Phase2d, c3Phase4d, c3Phase7d]),
   fits: bodeFits([c3Fit40, c3Fit1d, c3Fit2d, c3Fit4d, c3Fit7d], c3FitFreqs),
   xTitle: {x: 2395, y: 2305, html: freqX}, yTitle: {x: 1929, y: 1938, html: phaseY},
   legend: {mx: 2611, tx: 2650, y: 1658.5, step: 34.9, l1: 2580, l2: 2643}}
];
panels.forEach(drawPanel);
</script>
</body>
</html>
